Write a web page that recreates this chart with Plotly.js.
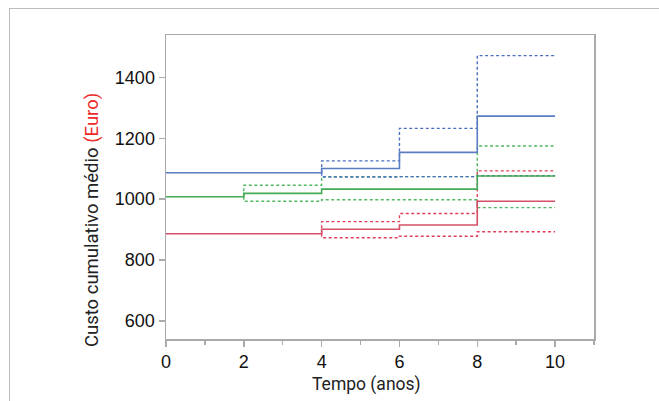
<!DOCTYPE html>
<html>
<head>
<meta charset="utf-8">
<script src="https://cdn.plot.ly/plotly-3.0.1.min.js"></script>
<style>
  html, body { margin: 0; padding: 0; background: #fff; }
  #wrap { position: relative; width: 659px; height: 401px; overflow: hidden; }
  #frame { position: absolute; left: 9px; top: 8px; width: 700px; height: 450px; border: 1px solid #bdbdbd; box-sizing: border-box; }
  #chart { position: absolute; left: 0; top: 0; width: 659px; height: 401px; }
</style>
</head>
<body>
<div id="wrap">
  <div id="frame"></div>
  <div id="chart"></div>
</div>
<script>
// Time points (years) where the step functions change
const xSolid = [0, 2, 4, 6, 8, 10];
const xBand2 = [2, 2, 4, 6, 8, 10];   // confidence band starting at year 2
const xBand4 = [4, 4, 6, 8, 10];      // confidence bands starting at year 4

// Blue series
const blueMean  = [1087, 1087, 1101, 1154, 1273, 1273];
const blueUpper = [1087, 1126, 1233, 1472, 1472];
const blueLower = [1087, 1073, 1074, 1077, 1077];

// Green series
const greenMean  = [1008, 1019, 1033, 1033, 1076, 1076];
const greenUpper = [1008, 1046, 1074, 1074, 1175, 1175];
const greenLower = [1008, 993, 998, 998, 972, 972];

// Red series
const redMean  = [886, 886, 901, 915, 993, 993];
const redUpper = [886, 926, 953, 1093, 1093];
const redLower = [886, 873, 878, 893, 893];

const xTicks = [0, 2, 4, 6, 8, 10];
const yTicks = [600, 800, 1000, 1200, 1400];

const xTitle = 'Tempo (anos)';
const yTitle = 'Custo cumulativo médio <span style="color:#ee2a2a">(Euro)</span>';

const C = { blue: '#5a7dc2', green: '#45aa55', red: '#d35068', redDash: '#e2405a', blueDash: '#4a6fbf', greenDash: '#52b862' };
const dash = '3px,2.5px';

function solid(x, y, c) {
  return { x: x, y: y, mode: 'lines', line: { shape: 'hv', color: c, width: 1.6 }, hoverinfo: 'skip', showlegend: false };
}
function dashed(x, y, c) {
  return { x: x, y: y, mode: 'lines', line: { shape: 'hv', color: c, width: 1.4, dash: dash }, hoverinfo: 'skip', showlegend: false };
}

const data = [
  dashed(xBand4, redLower, C.redDash),
  dashed(xBand4, redUpper, C.redDash),
  dashed(xBand2, greenLower, C.greenDash),
  dashed(xBand2, greenUpper, C.greenDash),
  dashed(xBand4, blueLower, C.blueDash),
  dashed(xBand4, blueUpper, C.blueDash),
  solid(xSolid, redMean, C.red),
  solid(xSolid, greenMean, C.green),
  solid(xSolid, blueMean, C.blue)
];

const titleFont = { family: 'Roboto, sans-serif', size: 17.5, color: '#222' };

const layout = {
  width: 659, height: 401,
  margin: { l: 166, r: 65, t: 35, b: 62 },
  paper_bgcolor: 'rgba(0,0,0,0)',
  plot_bgcolor: '#fff',
  showlegend: false,
  font: { family: 'Liberation Sans, Arial, sans-serif', size: 18, color: '#111' },
  xaxis: {
    range: [0, 11],
    tickvals: xTicks,
    ticks: 'outside', ticklen: 6, tickcolor: '#aaa', tickwidth: 1.5,
    minor: { dtick: 1, tick0: 0, ticks: 'outside', ticklen: 4, tickcolor: '#aaa', tickwidth: 1.5, showgrid: false },
    showline: true, linecolor: '#aaa', linewidth: 1.5, mirror: true,
    showgrid: false, zeroline: false,
    tickfont: { size: 18 }
  },
  yaxis: {
    range: [540, 1540],
    tickvals: yTicks,
    ticks: 'outside', ticklen: 6, tickcolor: '#aaa', tickwidth: 1.5,
    showline: true, linecolor: '#aaa', linewidth: 1.5, mirror: true,
    showgrid: false, zeroline: false,
    tickfont: { size: 18 }
  },
  annotations: [
    { text: xTitle, xref: 'paper', yref: 'paper', x: 0.4696, y: -0.151, xanchor: 'center', yanchor: 'middle', showarrow: false, font: titleFont },
    { text: yTitle, xref: 'paper', yref: 'paper', x: -0.173, y: 0.391, xanchor: 'center', yanchor: 'middle', textangle: -90, showarrow: false, font: Object.assign({}, titleFont, { size: 18.5 }) }
  ]
};

Plotly.newPlot('chart', data, layout, { displayModeBar: false, staticPlot: true });
</script>
</body>
</html>
